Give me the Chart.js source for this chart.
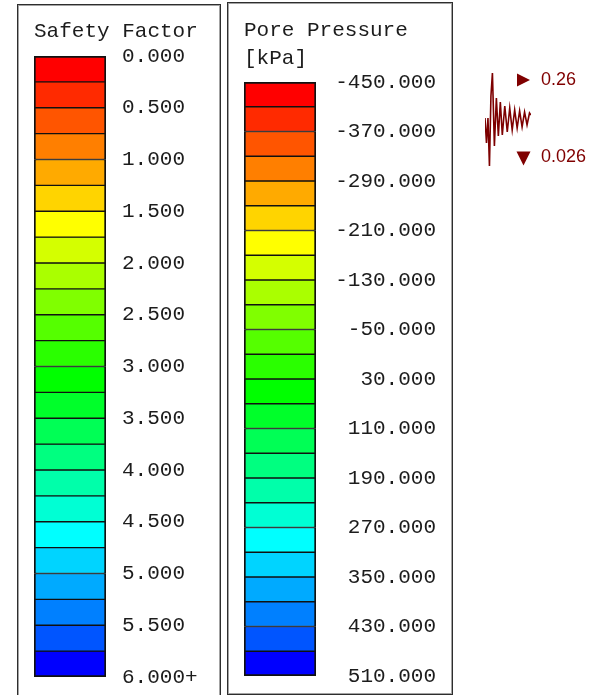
<!DOCTYPE html>
<html>
<head>
<meta charset="utf-8">
<title>Safety Factor / Pore Pressure legend</title>
<script src="https://cdn.jsdelivr.net/npm/chart.js@4.4.1/dist/chart.umd.min.js"></script>
<style>
  html, body { margin: 0; padding: 0; background: #fff; width: 598px; height: 695px; overflow: hidden; }
  .panel { position: absolute; box-sizing: border-box; border: 1px solid #2e2e2e; box-shadow: inset 0 0 0 1px #a3a3a3; }
  #panelSafety { left: 17px; top: 4px; width: 204px; height: 720px; }
  #panelPore { left: 227px; top: 2px; width: 226px; height: 693px; }
  canvas { position: absolute; }
  #safetyChart { left: 0; top: 0; }
  #poreChart { left: 227px; top: 0; }
  #traceChart { left: 460px; top: 50px; }
</style>
</head>
<body>
<div class="panel" id="panelSafety"></div>
<div class="panel" id="panelPore"></div>
<canvas id="safetyChart" width="221" height="695"></canvas>
<canvas id="poreChart" width="226" height="695"></canvas>
<canvas id="traceChart" width="138" height="130"></canvas>
<script>
// Contour band limits (25 limits -> 24 bands)
const safetyLevels = [0.00, 0.25, 0.50, 0.75, 1.00, 1.25, 1.50, 1.75, 2.00, 2.25, 2.50, 2.75,
  3.00, 3.25, 3.50, 3.75, 4.00, 4.25, 4.50, 4.75, 5.00, 5.25, 5.50, 5.75, 6.00];
const safetyTickValues = [0, 0.5, 1, 1.5, 2, 2.5, 3, 3.5, 4, 4.5, 5, 5.5, 6];
const safetyTickLabels = ['0.000', '0.500', '1.000', '1.500', '2.000', '2.500', '3.000',
  '3.500', '4.000', '4.500', '5.000', '5.500', '6.000+'];

const poreLevels = [-450, -410, -370, -330, -290, -250, -210, -170, -130, -90, -50, -10,
  30, 70, 110, 150, 190, 230, 270, 310, 350, 390, 430, 470, 510];
const poreTickValues = [-450, -370, -290, -210, -130, -50, 30, 110, 190, 270, 350, 430, 510];
const poreTickLabels = ['-450.000', '-370.000', '-290.000', '-210.000', '-130.000', '-50.000',
  '30.000', '110.000', '190.000', '270.000', '350.000', '430.000', '510.000'];

// Small record trace and its scale marks
const traceTime = [0, 1.5, 3, 4.5, 6, 7.5, 9.5, 11.5, 13.5, 15.5, 17.5, 20, 22.5, 25, 27.5,
  30, 32.5, 35, 37.5, 40, 42.5, 45, 46.5];
const traceAmp = [0, -25, 0, -48, 22, 45, -28, 20, -18, 16, -17, 12, -14, 10, -12,
  8, -10, 7, -9, 6, -7, 5, 3];
const traceMarks = ['0.26', '0.026'];

// Band palette, red -> blue
const bandColors = ['#ff0000', '#ff2a00', '#ff5500', '#ff7f00', '#ffaa00', '#ffd400', '#ffff00',
  '#d4ff00', '#aaff00', '#80ff00', '#55ff00', '#2aff00', '#00ff00', '#00ff2a', '#00ff55',
  '#00ff80', '#00ffaa', '#00ffd4', '#00ffff', '#00d4ff', '#00aaff', '#0080ff', '#0055ff', '#0000ff'];

const MONO = "'Liberation Mono', 'DejaVu Sans Mono', monospace";
const TEXT = '#1c1c1c';

function bandDatasets(levels) {
  const n = levels.length - 1;
  const sets = [];
  for (let i = 0; i < n; i++) {
    sets.push({
      data: [[levels[i], levels[i + 1]]],
      backgroundColor: bandColors[i],
      borderColor: '#111111',
      borderWidth: { left: 2, right: 2, top: i === 0 ? 2 : 1, bottom: i === n - 1 ? 2 : 1 },
      borderSkipped: false,
      categoryPercentage: 1,
      barPercentage: 1,
      grouped: false
    });
  }
  return sets;
}

function legendChart(canvasId, cfg) {
  return new Chart(document.getElementById(canvasId), {
    type: 'bar',
    data: { labels: [''], datasets: bandDatasets(cfg.levels) },
    options: {
      responsive: false,
      animation: false,
      devicePixelRatio: 1,
      layout: { padding: cfg.padding },
      plugins: {
        legend: { display: false },
        tooltip: { enabled: false },
        title: {
          display: true,
          text: cfg.title,
          align: 'start',
          color: TEXT,
          font: { family: MONO, size: 21, weight: 'normal', lineHeight: '28px' },
          padding: cfg.titlePadding
        }
      },
      scales: {
        x: { type: 'category', display: false },
        y: {
          type: 'linear',
          position: 'right',
          reverse: true,
          min: cfg.levels[0],
          max: cfg.levels[cfg.levels.length - 1],
          grid: { display: false, drawTicks: false },
          border: { display: false },
          afterBuildTicks: s => { s.ticks = cfg.tickValues.map(v => ({ value: v })); },
          afterFit: s => {
            s.width = cfg.axisWidth;
            // end labels may overhang the column; keep the column length fixed
            s.paddingTop = 0;
            s.paddingBottom = 0;
          },
          ticks: {
            autoSkip: false,
            padding: cfg.tickPadding,
            crossAlign: cfg.crossAlign,
            color: TEXT,
            font: { family: MONO, size: 21 },
            callback: (v, i) => cfg.tickLabels[i]
          }
        }
      }
    }
  });
}

legendChart('safetyChart', {
  levels: safetyLevels,
  tickValues: safetyTickValues,
  tickLabels: safetyTickLabels,
  title: 'Safety Factor',
  padding: { left: 34, top: 7, right: 0, bottom: 18 },
  titlePadding: { top: 10, bottom: 11 },
  axisWidth: 115,
  tickPadding: 16,
  crossAlign: 'near'
});

legendChart('poreChart', {
  levels: poreLevels,
  tickValues: poreTickValues,
  tickLabels: poreTickLabels,
  title: ['Pore Pressure', '[kPa]'],
  padding: { left: 17, top: 6, right: 17, bottom: 19 },
  titlePadding: { top: 10, bottom: 10 },
  axisWidth: 120,
  tickPadding: 18,
  crossAlign: 'far'
});

// Scale markers drawn beside the trace
const traceMarkPlugin = {
  id: 'traceMarks',
  afterDraw(chart) {
    const { ctx, chartArea: a } = chart;
    const red = '#800000';
    ctx.save();
    ctx.fillStyle = red;
    // right-pointing marker at the top
    ctx.beginPath();
    ctx.moveTo(a.right - 14, a.top + 0.5);
    ctx.lineTo(a.right - 1, a.top + 7);
    ctx.lineTo(a.right - 14, a.top + 13.5);
    ctx.closePath();
    ctx.fill();
    // down-pointing marker at the bottom
    ctx.beginPath();
    ctx.moveTo(a.right - 14.5, a.bottom - 14.5);
    ctx.lineTo(a.right - 0.5, a.bottom - 14.5);
    ctx.lineTo(a.right - 7.5, a.bottom - 0.5);
    ctx.closePath();
    ctx.fill();
    ctx.font = "18px 'Liberation Sans', Arial, sans-serif";
    ctx.textBaseline = 'middle';
    ctx.textAlign = 'left';
    ctx.fillText(traceMarks[0], a.right + 10, a.top + 7);
    ctx.fillText(traceMarks[1], a.right + 10, a.bottom - 8.5);
    ctx.restore();
  }
};

new Chart(document.getElementById('traceChart'), {
  type: 'line',
  data: {
    datasets: [{
      data: traceTime.map((t, i) => ({ x: t, y: traceAmp[i] })),
      borderColor: '#7d0000',
      borderWidth: 1.6,
      pointRadius: 0,
      tension: 0,
      fill: false
    }]
  },
  options: {
    responsive: false,
    animation: false,
    devicePixelRatio: 1,
    layout: { padding: { left: 25, top: 23, right: 67, bottom: 14 } },
    plugins: { legend: { display: false }, tooltip: { enabled: false } },
    scales: {
      x: { type: 'linear', display: false, min: 0, max: 46.5 },
      y: { type: 'linear', display: false, min: -48, max: 45 }
    }
  },
  plugins: [traceMarkPlugin]
});
</script>
</body>
</html>
